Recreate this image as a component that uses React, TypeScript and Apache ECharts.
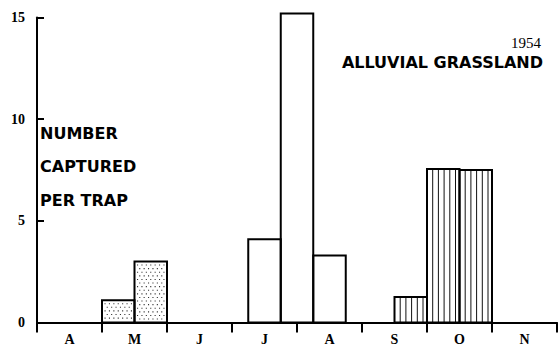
import React, { useEffect, useRef } from "react";
import * as echarts from "echarts";

// Month labels along the x axis (months counted from 1 April)
const months = ["A", "M", "J", "J", "A", "S", "O", "N"];
// Bins: [start month, end month, number captured per trap]
const dottedBins = [
  [1.0, 1.5, 1.1],
  [1.5, 2.0, 3.0],
];
const plainBins = [
  [3.25, 3.75, 4.1],
  [3.75, 4.25, 15.2],
  [4.25, 4.75, 3.3],
];
const stripedBins = [
  [5.5, 6.0, 1.25],
  [6.0, 6.5, 7.55],
  [6.5, 7.0, 7.5],
];
const yMax = 15;
const yStep = 5;
const yearLabel = "1954";
const habitatLabel = "ALLUVIAL GRASSLAND";
const yTitleLines = ["NUMBER", "CAPTURED", "PER TRAP"];

type Fill = "dots" | "plain" | "stripes";

function makeRender(fill: Fill) {
  return (_params: any, api: any) => {
    const x0 = api.value(0);
    const x1 = api.value(1);
    const v = api.value(2);
    const p0 = api.coord([x0, 0]);
    const p1 = api.coord([x1, v]);
    const left = p0[0];
    const right = p1[0];
    const top = p1[1];
    const bottom = p0[1];
    const children: any[] = [];
    if (fill === "stripes") {
      for (let x = left + 5.7; x < right - 2; x += 5.7) {
        children.push({
          type: "line",
          shape: { x1: x, y1: top, x2: x, y2: bottom },
          style: { stroke: "#111", lineWidth: 1 },
        });
      }
    }
    if (fill === "dots") {
      let row = 0;
      for (let y = top + 3; y < bottom - 1.5; y += 3.6, row++) {
        for (let x = left + 2.5 + (row % 2) * 2.2; x < right - 1.5; x += 4.4) {
          children.push({
            type: "rect",
            shape: { x: x, y: y, width: 1.1, height: 1.1 },
            style: { fill: "#333" },
          });
        }
      }
    }
    children.push({
      type: "rect",
      shape: { x: left, y: top, width: right - left, height: bottom - top },
      style: { fill: "none", stroke: "#000", lineWidth: 2 },
    });
    return { type: "group", children };
  };
}

export default function App() {
  const ref = useRef<HTMLDivElement>(null);
  useEffect(() => {
    document.body.style.margin = "0";
    const chart = echarts.init(ref.current!, undefined, { renderer: "svg" });
    const labelFont = "bold 16px 'DejaVu Sans'";
    chart.setOption({
      animation: false,
      backgroundColor: "#fff",
      grid: { left: 37, right: 1, top: 17.5, bottom: 29.5 },
      xAxis: [
        {
          type: "value",
          min: 0,
          max: 8,
          interval: 1,
          axisLine: { show: true, lineStyle: { color: "#000", width: 2 } },
          axisTick: { show: true, length: 10, lineStyle: { color: "#000", width: 2 } },
          axisLabel: { show: false },
          splitLine: { show: false },
        },
        {
          type: "category",
          data: months,
          position: "bottom",
          boundaryGap: true,
          axisLine: { show: false },
          axisTick: { show: false },
          axisLabel: {
            margin: 10,
            fontFamily: "Liberation Serif",
            fontWeight: "bold",
            fontSize: 14,
            color: "#000",
          },
          splitLine: { show: false },
        },
      ],
      yAxis: {
        type: "value",
        min: 0,
        max: yMax,
        interval: yStep,
        axisLine: { show: true, lineStyle: { color: "#000", width: 2 } },
        axisTick: { show: true, inside: true, length: 7, lineStyle: { color: "#000", width: 2 } },
        axisLabel: {
          margin: 12,
          fontFamily: "Liberation Serif",
          fontWeight: "bold",
          fontSize: 14,
          color: "#000",
        },
        splitLine: { show: false },
      },
      series: [
        { type: "custom", xAxisIndex: 0, renderItem: makeRender("dots"), data: dottedBins, clip: false, z: 3 },
        { type: "custom", xAxisIndex: 0, renderItem: makeRender("plain"), data: plainBins, clip: false, z: 3 },
        { type: "custom", xAxisIndex: 0, renderItem: makeRender("stripes"), data: stripedBins, clip: false, z: 3 },
      ],
      graphic: [
        ...yTitleLines.map((t, i) => ({
          type: "text",
          x: 40,
          y: 133 + i * 33.5,
          style: { text: t, font: labelFont, fill: "#000", textAlign: "left", textVerticalAlign: "middle", align: "left", verticalAlign: "middle" },
        })),
        {
          type: "text",
          x: 541,
          y: 43,
          style: { text: yearLabel, font: "15px 'Liberation Serif'", fill: "#000", textAlign: "right", textVerticalAlign: "middle", align: "right", verticalAlign: "middle" },
        },
        {
          type: "text",
          x: 543,
          y: 62,
          style: { text: habitatLabel, font: labelFont, fill: "#000", textAlign: "right", textVerticalAlign: "middle", align: "right", verticalAlign: "middle" },
        },
      ],
    });
    return () => chart.dispose();
  }, []);
  return <div ref={ref} style={{ width: 558, height: 352 }} />;
}
